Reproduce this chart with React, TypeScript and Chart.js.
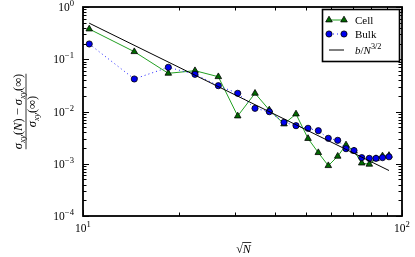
import React, { useEffect, useRef } from 'react';
import { Chart, registerables } from 'chart.js';
Chart.register(...registerables);

const sqrtN = [10.46, 14.48, 18.51, 22.44, 26.56, 30.55, 34.61, 38.37, 42.67, 46.53, 50.75, 54.66, 58.75, 62.87, 66.76, 70.72, 74.77, 78.98, 82.89, 86.87, 91.04];
const cellValues = [0.379, 0.1395, 0.0538, 0.0604, 0.0463, 0.0082, 0.0223, 0.0107, 0.00577, 0.00896, 0.00304, 0.00163, 0.000918, 0.00139, 0.00229, 0.00175, 0.00103, 0.000977, 0.00125, 0.00141, 0.00144];
const bulkValues = [0.196, 0.0419, 0.0701, 0.0515, 0.0312, 0.0223, 0.0115, 0.00991, 0.00621, 0.00535, 0.00477, 0.00429, 0.00307, 0.00281, 0.00194, 0.00179, 0.00131, 0.00127, 0.00127, 0.00131, 0.00136];
const fitX = [10.46, 91.04];
const fitY = [0.49, 0.000742];

const xTickValues = [10, 100];
const xTickExps = ['1', '2'];
const yTickValues = [1, 0.1, 0.01, 0.001, 0.0001];
const yTickExps = ['0', '−1', '−2', '−3', '−4'];

const FONT = '"Liberation Serif", "DejaVu Serif", serif';

type Seg = { t: string; it?: boolean; sub?: boolean; sup?: boolean };

function segFont(s: Seg, size: number) {
  const sz = s.sub ? size * 0.72 : s.sup ? size * 0.75 : size;
  return `${s.it ? 'italic ' : ''}${sz}px ${FONT}`;
}
function richWidth(ctx: CanvasRenderingContext2D, segs: Seg[], size: number) {
  let w = 0;
  for (const s of segs) {
    ctx.font = segFont(s, size);
    w += ctx.measureText(s.t).width;
  }
  return w;
}
function drawRich(ctx: CanvasRenderingContext2D, segs: Seg[], x: number, y: number, size: number, align: 'left' | 'center' | 'right') {
  const w = richWidth(ctx, segs, size);
  let cx = align === 'center' ? x - w / 2 : align === 'right' ? x - w : x;
  ctx.textAlign = 'left';
  ctx.textBaseline = 'alphabetic';
  for (const s of segs) {
    ctx.font = segFont(s, size);
    const dy = s.sub ? size * 0.25 : s.sup ? -size * 0.42 : 0;
    ctx.fillText(s.t, cx, y + dy);
    cx += ctx.measureText(s.t).width;
  }
  return w;
}

function logTickValues(min: number, max: number) {
  const out: { v: number; major: boolean }[] = [];
  const d0 = Math.floor(Math.log10(min));
  const d1 = Math.ceil(Math.log10(max));
  for (let d = d0; d <= d1; d++) {
    for (let m = 1; m <= 9; m++) {
      const v = m * Math.pow(10, d);
      if (v >= min * 0.9999 && v <= max * 1.0001) out.push({ v, major: m === 1 });
    }
  }
  return out;
}

function drawMarker(ctx: CanvasRenderingContext2D, style: string, x: number, y: number, r: number, fill: string) {
  ctx.beginPath();
  if (style === 'triangle') {
    let rad = 0;
    ctx.moveTo(x + Math.sin(rad) * r, y - Math.cos(rad) * r);
    rad += (2 * Math.PI) / 3;
    ctx.lineTo(x + Math.sin(rad) * r, y - Math.cos(rad) * r);
    rad += (2 * Math.PI) / 3;
    ctx.lineTo(x + Math.sin(rad) * r, y - Math.cos(rad) * r);
    ctx.closePath();
  } else {
    ctx.arc(x, y, r, 0, Math.PI * 2);
  }
  ctx.fillStyle = fill;
  ctx.fill();
  ctx.strokeStyle = '#000';
  ctx.lineWidth = 0.8;
  ctx.setLineDash([]);
  ctx.stroke();
}

const framePlugin = {
  id: 'framePlugin',
  afterDraw(chart: any) {
    const { ctx, chartArea: a, scales } = chart;
    const xs = scales.x;
    const ys = scales.y;
    ctx.save();
    ctx.setLineDash([]);
    ctx.strokeStyle = '#000';
    ctx.lineWidth = 1;
    for (const t of logTickValues(xs.min, xs.max)) {
      const px = Math.round(xs.getPixelForValue(t.v)) + 0.5;
      const len = t.major ? 6 : 3.5;
      ctx.beginPath();
      ctx.moveTo(px, a.bottom);
      ctx.lineTo(px, a.bottom - len);
      ctx.moveTo(px, a.top);
      ctx.lineTo(px, a.top + len);
      ctx.stroke();
    }
    for (const t of logTickValues(ys.min, ys.max)) {
      const py = Math.round(ys.getPixelForValue(t.v)) + 0.5;
      const len = t.major ? 6 : 3.5;
      ctx.beginPath();
      ctx.moveTo(a.left, py);
      ctx.lineTo(a.left + len, py);
      ctx.moveTo(a.right, py);
      ctx.lineTo(a.right - len, py);
      ctx.stroke();
    }
    ctx.lineWidth = 1.8;
    ctx.strokeRect(a.left, a.top, a.right - a.left, a.bottom - a.top);

    ctx.fillStyle = '#000';
    xTickValues.forEach((v, i) => {
      const px = xs.getPixelForValue(v);
      drawRich(ctx, [{ t: '10' }, { t: xTickExps[i], sup: true }], px, a.bottom + 16, 11.5, 'center');
    });
    yTickValues.forEach((v, i) => {
      const py = ys.getPixelForValue(v);
      drawRich(ctx, [{ t: '10' }, { t: yTickExps[i], sup: true }], a.left - 9, py + 4, 11.5, 'right');
    });

    // x title: sqrt(N)
    {
      const cx = (a.left + a.right) / 2 + 1;
      const by = 253;
      const fs = 12;
      ctx.font = `${fs}px ${FONT}`;
      const wr = ctx.measureText('√').width;
      ctx.font = `italic ${fs}px ${FONT}`;
      const wn = ctx.measureText('N').width;
      const x0 = cx - (wr + wn) / 2;
      ctx.font = `${fs}px ${FONT}`;
      ctx.textAlign = 'left';
      ctx.textBaseline = 'alphabetic';
      ctx.fillText('√', x0, by);
      ctx.font = `italic ${fs}px ${FONT}`;
      ctx.fillText('N', x0 + wr, by);
      ctx.lineWidth = 0.8;
      ctx.beginPath();
      ctx.moveTo(x0 + wr - 0.5, by - 10.5);
      ctx.lineTo(x0 + wr + wn + 0.5, by - 10.5);
      ctx.stroke();
    }

    // y title: fraction
    {
      const cy = (a.top + a.bottom) / 2;
      const cx = 26;
      ctx.save();
      ctx.translate(cx, cy);
      ctx.rotate(-Math.PI / 2);
      const size = 12.5;
      const num: Seg[] = [
        { t: 'σ', it: true }, { t: 'xy', it: true, sub: true }, { t: '(' }, { t: 'N', it: true }, { t: ')' },
        { t: ' − ' },
        { t: 'σ', it: true }, { t: 'xy', it: true, sub: true }, { t: '(∞)' },
      ];
      const den: Seg[] = [{ t: 'σ', it: true }, { t: 'xy', it: true, sub: true }, { t: '(∞)' }];
      const wn = drawRich(ctx, num, 0, -4.5, size, 'center');
      drawRich(ctx, den, 0, 10, size, 'center');
      ctx.lineWidth = 0.8;
      ctx.beginPath();
      ctx.moveTo(-wn / 2, 0);
      ctx.lineTo(wn / 2, 0);
      ctx.stroke();
      ctx.restore();
    }

    // legend
    {
      const bx = 322.5, by = 9.5, bw = 77, bh = 52;
      ctx.fillStyle = '#fff';
      ctx.fillRect(bx, by, bw, bh);
      ctx.lineWidth = 1.6;
      ctx.strokeStyle = '#000';
      ctx.strokeRect(bx, by, bw, bh);
      const rows = [20, 34, 50];
      const labels: Seg[][] = [
        [{ t: 'Cell' }],
        [{ t: 'Bulk' }],
        [{ t: 'b', it: true }, { t: '/' }, { t: 'N', it: true }, { t: '3/2', sup: true }],
      ];
      chart.data.datasets.forEach((ds: any, i: number) => {
        const y = rows[i];
        ctx.save();
        ctx.strokeStyle = ds.borderColor;
        ctx.lineWidth = ds.borderWidth;
        ctx.setLineDash(ds.borderDash || []);
        ctx.beginPath();
        ctx.moveTo(329, y);
        ctx.lineTo(344, y);
        ctx.stroke();
        ctx.restore();
        if (ds.pointRadius > 0) {
          drawMarker(ctx, ds.pointStyle, 329, y, ds.pointRadius, ds.pointBackgroundColor);
          drawMarker(ctx, ds.pointStyle, 344, y, ds.pointRadius, ds.pointBackgroundColor);
        }
        ctx.fillStyle = '#000';
        drawRich(ctx, labels[i], 355, y + 4, 11, 'left');
      });
    }
    ctx.restore();
  },
};

export default function App() {
  const ref = useRef<HTMLCanvasElement | null>(null);
  useEffect(() => {
    if (!ref.current) return;
    const chart = new Chart(ref.current, {
      type: 'line',
      data: {
        datasets: [
          {
            label: 'Cell',
            data: sqrtN.map((x, i) => ({ x, y: cellValues[i] })),
            borderColor: '#22a022',
            borderWidth: 1,
            pointStyle: 'triangle',
            pointRadius: 3.8,
            pointBackgroundColor: '#006a00',
            pointBorderColor: '#000',
            pointBorderWidth: 0.8,
            order: 2,
            tension: 0,
          },
          {
            label: 'Bulk',
            data: sqrtN.map((x, i) => ({ x, y: bulkValues[i] })),
            borderColor: '#2020ff',
            borderWidth: 1,
            borderDash: [1, 3],
            pointStyle: 'circle',
            pointRadius: 3.1,
            pointBackgroundColor: '#0000ee',
            pointBorderColor: '#000',
            pointBorderWidth: 0.8,
            order: 1,
            tension: 0,
          },
          {
            label: 'b/N^{3/2}',
            data: fitX.map((x, i) => ({ x, y: fitY[i] })),
            borderColor: '#000',
            borderWidth: 1,
            pointRadius: 0,
            order: 0,
            tension: 0,
          },
        ] as any,
      },
      options: {
        animation: false,
        responsive: false,
        devicePixelRatio: 1,
        events: [],
        layout: { padding: { left: 0, right: 13, top: 7, bottom: 0 } },
        plugins: { legend: { display: false }, tooltip: { enabled: false } },
        scales: {
          x: {
            type: 'logarithmic',
            min: 10,
            max: 100,
            grid: { display: false },
            border: { display: false },
            ticks: { display: false, autoSkip: false },
            afterFit: (s: any) => { s.height = 41; },
          },
          y: {
            type: 'logarithmic',
            min: 0.0001,
            max: 1,
            grid: { display: false },
            border: { display: false },
            ticks: { display: false, autoSkip: false },
            afterFit: (s: any) => { s.width = 83; },
          },
        },
      } as any,
      plugins: [framePlugin],
    });
    return () => chart.destroy();
  }, []);
  return (
    <div style={{ position: 'absolute', left: 0, top: 0, width: 415, height: 257, background: '#fff' }}>
      <canvas ref={ref} width={415} height={257} style={{ display: 'block', width: 415, height: 257 }} />
    </div>
  );
}
